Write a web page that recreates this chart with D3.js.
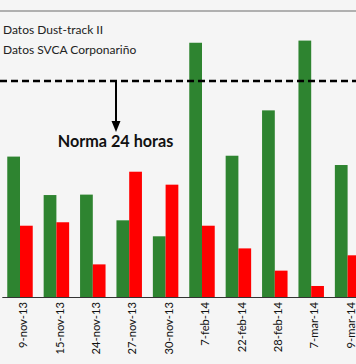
<!DOCTYPE html>
<html>
<head>
<meta charset="utf-8">
<script src="https://cdn.jsdelivr.net/npm/d3@7"></script>
<style>
  html, body { margin: 0; padding: 0; background: #f5f5f5; }
  svg { display: block; }
</style>
</head>
<body>
<div id="chart"></div>
<script>
const categories = ["9-nov-13", "15-nov-13", "24-nov-13", "27-nov-13", "30-nov-13", "7-feb-14", "22-feb-14", "28-feb-14", "7-mar-14", "9-mar-14"];
const dustTrack = [65.0, 47.2, 47.4, 35.5, 28.1, 117.7, 65.4, 86.4, 118.7, 61.1];
const svca = [33.0, 34.6, 15.1, 58.0, 52.0, 33.0, 22.5, 12.2, 5.1, 19.3];
const seriesNames = ["Datos Dust-track II", "Datos SVCA Corponariño"];
const norma = 100;
const normaLabel = "Norma 24 horas";
const yMax = 132.4;

const W = 356, H = 364;
const svg = d3.select("#chart").append("svg").attr("width", W).attr("height", H);
svg.append("rect").attr("width", W).attr("height", H).attr("fill", "#f5f5f5");

const plotTop = 11, plotBottom = 297;
const x = d3.scaleBand().domain(categories).range([1.8, 365.8]).paddingInner(0.3).paddingOuter(0.15);
const xs = d3.scaleBand().domain([0, 1]).range([0, x.bandwidth()]);
const y = d3.scaleLinear().domain([0, yMax]).range([plotBottom, plotTop]);

// top border line
svg.append("line").attr("x1", 0).attr("x2", W).attr("y1", y(yMax)).attr("y2", y(yMax))
  .attr("stroke", "#999").attr("stroke-width", 1.5);

const colors = ["#2e8430", "#ff0000"];
const series = [dustTrack, svca];
series.forEach((vals, si) => {
  svg.append("g").selectAll("rect").data(vals).join("rect")
    .attr("x", (d, i) => x(categories[i]) + xs(si))
    .attr("width", xs.bandwidth())
    .attr("y", d => y(d))
    .attr("height", d => y(0) - y(d))
    .attr("fill", colors[si]);
});

// baseline axis
const xAxis = d3.axisBottom(x).tickSize(0).tickPadding(0);
const gx = svg.append("g").attr("transform", `translate(0,${plotBottom})`).call(xAxis);
gx.select(".domain").attr("stroke", "#333").attr("stroke-width", 1.2);
gx.selectAll("text")
  .attr("transform", "rotate(-90)")
  .attr("text-anchor", "end")
  .attr("x", -5)
  .attr("y", 0)
  .attr("dx", 0)
  .attr("dy", "0.65em")
  .attr("font-family", "Lato, 'Open Sans', sans-serif")
  .attr("font-size", 11.2)
  .attr("fill", "#111");

// norm dashed line
svg.append("line").attr("x1", 0).attr("x2", W).attr("y1", y(norma)).attr("y2", y(norma))
  .attr("stroke", "#000").attr("stroke-width", 2.6).attr("stroke-dasharray", "7,4");

// arrow
const ax = 116;
svg.append("line").attr("x1", ax).attr("x2", ax).attr("y1", y(norma)).attr("y2", 124)
  .attr("stroke", "#000").attr("stroke-width", 2);
svg.append("path").attr("d", `M${ax - 4.5},121 L${ax + 4.5},121 L${ax},132 Z`).attr("fill", "#000");

svg.append("text").attr("x", 115.5).attr("y", 147).attr("text-anchor", "middle")
  .attr("font-family", "Lato, 'Open Sans', sans-serif").attr("font-weight", "bold")
  .attr("font-size", 16.2).attr("fill", "#111").text(normaLabel);

// legend texts
svg.append("g").selectAll("text").data(seriesNames).join("text")
  .attr("x", 3).attr("y", (d, i) => 34 + i * 19.5)
  .attr("font-family", "Lato, 'Open Sans', sans-serif").attr("font-size", 12)
  .attr("fill", "#222").text(d => d);
</script>
</body>
</html>
